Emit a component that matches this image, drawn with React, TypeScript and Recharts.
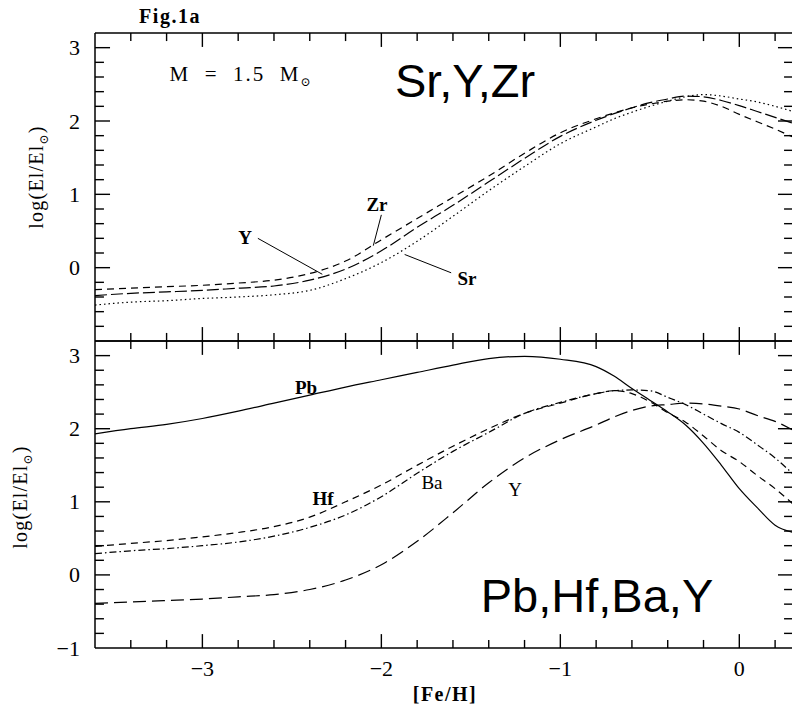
import React from 'react';
import { LineChart, Line, XAxis, YAxis, ReferenceLine } from 'recharts';

// [Fe/H] grid shared by both panels
const FE_H = [-3.6, -3.4, -3.2, -3.0, -2.8, -2.6, -2.4, -2.2, -2.0, -1.8, -1.6, -1.4, -1.2, -1.0, -0.8, -0.7, -0.6, -0.5, -0.4, -0.3, -0.2, -0.1, 0.0, 0.1, 0.2, 0.3];

// top panel: Sr, Y, Zr
const ZR = [-0.30, -0.28, -0.26, -0.24, -0.21, -0.17, -0.08, 0.09, 0.38, 0.67, 0.96, 1.25, 1.56, 1.84, 2.03, 2.11, 2.18, 2.23, 2.27, 2.29, 2.27, 2.20, 2.09, 1.99, 1.89, 1.78];
const Y_TOP = [-0.38, -0.35, -0.33, -0.31, -0.28, -0.25, -0.17, -0.02, 0.23, 0.55, 0.85, 1.17, 1.49, 1.79, 2.01, 2.10, 2.18, 2.25, 2.30, 2.34, 2.33, 2.28, 2.21, 2.13, 2.05, 1.97];
const SR = [-0.51, -0.47, -0.45, -0.42, -0.40, -0.37, -0.31, -0.15, 0.07, 0.36, 0.70, 1.05, 1.38, 1.69, 1.92, 2.03, 2.12, 2.20, 2.27, 2.33, 2.36, 2.34, 2.30, 2.26, 2.20, 2.13];

// bottom panel: Pb, Hf, Ba, Y
const PB = [1.93, 2.00, 2.06, 2.14, 2.24, 2.35, 2.46, 2.57, 2.67, 2.77, 2.87, 2.96, 2.99, 2.95, 2.85, 2.72, 2.55, 2.39, 2.23, 2.05, 1.80, 1.50, 1.18, 0.92, 0.68, 0.58];
const HF = [0.39, 0.43, 0.47, 0.52, 0.58, 0.66, 0.79, 1.00, 1.23, 1.50, 1.76, 2.00, 2.21, 2.35, 2.48, 2.52, 2.48, 2.37, 2.22, 2.09, 1.90, 1.70, 1.55, 1.36, 1.18, 0.97];
const BA = [0.29, 0.33, 0.36, 0.40, 0.45, 0.53, 0.65, 0.82, 1.07, 1.39, 1.69, 1.95, 2.21, 2.36, 2.48, 2.52, 2.53, 2.52, 2.43, 2.33, 2.20, 2.07, 1.95, 1.78, 1.60, 1.38];
const Y_BOT = [-0.39, -0.37, -0.35, -0.33, -0.30, -0.27, -0.20, -0.07, 0.14, 0.46, 0.85, 1.26, 1.60, 1.85, 2.05, 2.16, 2.25, 2.31, 2.33, 2.35, 2.34, 2.31, 2.27, 2.18, 2.10, 1.98];

const X_TICKS = [-3.4, -3.2, -3.0, -2.8, -2.6, -2.4, -2.2, -2.0, -1.8, -1.6, -1.4, -1.2, -1.0, -0.8, -0.6, -0.4, -0.2, 0.0, 0.2];
const X_LABELS = [-3, -2, -1, 0];
const Y_TICKS = [-0.8, -0.6, -0.4, -0.2, 0.0, 0.2, 0.4, 0.6, 0.8, 1.0, 1.2, 1.4, 1.6, 1.8, 2.0, 2.2, 2.4, 2.6, 2.8, 3.0];
const Y_LABELS_TOP = [0, 1, 2, 3];
const Y_LABELS_BOT = [-1, 0, 1, 2, 3];

const topRows = FE_H.map((x, i) => ({ x, zr: ZR[i], y: Y_TOP[i], sr: SR[i] }));
const botRows = FE_H.map((x, i) => ({ x, pb: PB[i], hf: HF[i], ba: BA[i], y: Y_BOT[i] }));

const SERIF = '"Liberation Serif", "DejaVu Serif", serif';
const SANS = '"Liberation Sans", Arial, sans-serif';

const X_DOMAIN: [number, number] = [-3.6, 0.3];
const Y_DOMAIN: [number, number] = [-1, 3.2];

// inward tick lengths, in axis units (about 14/8 px vertical, 15/9 px horizontal)
const XT_MAJOR = 0.19;
const XT_MINOR = 0.11;
const YT_MAJOR = 0.084;
const YT_MINOR = 0.05;

const has = (arr: number[], v: number) => arr.some((a) => Math.abs(a - v) < 1e-6);
const isInt = (v: number) => Math.abs(v - Math.round(v)) < 1e-6;
const fmt = (v: number) => (v < 0 ? '\u2212' + Math.abs(v) : String(v));

const xLabel = (labels: number[] | null) => (props: any) => {
  const v = Number(props.payload.value);
  if (!labels || !has(labels, v)) return <g />;
  return (
    <text x={Number(props.x)} y={Number(props.y) + 28} textAnchor="middle" fontSize={22} fontFamily={SERIF} fill="#000">
      {fmt(v)}
    </text>
  );
};

const yLabel = (labels: number[]) => (props: any) => {
  const v = Number(props.payload.value);
  if (!has(labels, v)) return <g />;
  return (
    <text x={Number(props.x) - 15} y={Number(props.y) + 7.5} textAnchor="end" fontSize={22} fontFamily={SERIF} fill="#000">
      {fmt(v)}
    </text>
  );
};

const lineProps = {
  xAxisId: 'b',
  yAxisId: 'l',
  type: 'monotone' as const,
  stroke: '#000',
  strokeWidth: 1.2,
  dot: false,
  activeDot: false,
  isAnimationActive: false,
};

const seg = (key: string, a: [number, number], b: [number, number], w = 1.4) => (
  <ReferenceLine key={key} xAxisId="b" yAxisId="l" segment={[{ x: a[0], y: a[1] }, { x: b[0], y: b[1] }]}
    stroke="#000" strokeWidth={w} ifOverflow="visible" />
);

const Axes = (bottomHeight: number, xLabels: number[] | null, yLabels: number[]) => [
  <XAxis key="b" xAxisId="b" dataKey="x" type="number" domain={X_DOMAIN} ticks={X_TICKS} interval={0}
    height={bottomHeight} tickSize={0} tickMargin={0} axisLine={false} tickLine={false}
    tick={xLabel(xLabels)} allowDataOverflow />,
  <YAxis key="l" yAxisId="l" type="number" domain={Y_DOMAIN} ticks={[-1, ...Y_TICKS]} interval={0} width={95}
    tickSize={0} tickMargin={0} axisLine={false} tickLine={false} tick={yLabel(yLabels)} allowDataOverflow />,
];

// box plus inward ticks on all four sides
const Frame = () => {
  const [x0, x1] = X_DOMAIN;
  const [y0, y1] = Y_DOMAIN;
  const out = [
    seg('fl', [x0, y0], [x0, y1], 1.5),
    seg('fb', [x0, y0], [x1, y0], 1.5),
    seg('ft', [x0, y1], [x1, y1], 1.5),
  ];
  X_TICKS.forEach((t, i) => {
    const len = has(X_LABELS, t) ? XT_MAJOR : XT_MINOR;
    out.push(seg('xb' + i, [t, y0], [t, y0 + len]));
    out.push(seg('xt' + i, [t, y1], [t, y1 - len]));
  });
  Y_TICKS.forEach((t, i) => {
    const len = isInt(t) ? YT_MAJOR : YT_MINOR;
    out.push(seg('yl' + i, [x0, t], [x0 + len, t]));
    out.push(seg('yr' + i, [x1 - len, t], [x1, t]));
  });
  return out;
};

const txt = (left: number, top: number, s: React.ReactNode, extra: React.CSSProperties = {}) => (
  <div style={{ position: 'absolute', left, top, transform: 'translate(-50%, -50%)', whiteSpace: 'pre',
    fontFamily: SERIF, fontSize: 19, color: '#000', lineHeight: 1, ...extra }}>{s}</div>
);

const yTitle = (left: number, top: number) =>
  txt(left, top, <span>log(El/El<sub style={{ fontSize: 12 }}>⊙</sub>)</span>,
    { transform: 'translate(-50%, -50%) rotate(-90deg)', fontSize: 20, letterSpacing: 1.2 });

export default function App() {
  return (
    <div style={{ position: 'absolute', left: 0, top: 0, width: 792, height: 709, overflow: 'hidden', background: '#fff' }}>
      <div style={{ position: 'absolute', left: 0, top: 0 }}>
        <LineChart width={800} height={345} data={topRows} margin={{ top: 33, right: 7, bottom: 4, left: 0 }}>
          {Axes(0, null, Y_LABELS_TOP)}
          {Frame()}
          <Line {...lineProps} dataKey="zr" strokeDasharray="7 5" />
          <Line {...lineProps} dataKey="y" strokeDasharray="12 4" />
          <Line {...lineProps} dataKey="sr" strokeDasharray="1.5 3" />
          {seg('pY', [-2.69, 0.40], [-2.33, -0.09], 1)}
          {seg('pZr', [-2.0, 0.72], [-2.045, 0.30], 1)}
          {seg('pSr', [-1.87, 0.18], [-1.61, -0.07], 1)}
        </LineChart>
      </div>
      <div style={{ position: 'absolute', left: 0, top: 331 }}>
        <LineChart width={800} height={378} data={botRows} margin={{ top: 10, right: 7, bottom: 0, left: 0 }}>
          {Axes(61, X_LABELS, Y_LABELS_BOT)}
          {Frame()}
          <Line {...lineProps} dataKey="pb" />
          <Line {...lineProps} dataKey="hf" strokeDasharray="7 5" />
          <Line {...lineProps} dataKey="ba" strokeDasharray="7 3 1.5 3" />
          <Line {...lineProps} dataKey="y" strokeDasharray="13 6" />
        </LineChart>
      </div>

      {txt(170, 16, 'Fig.1a', { fontWeight: 'bold', fontSize: 20, letterSpacing: 1.5 })}
      {txt(241, 76, <span>M  =  1.5  M<sub style={{ fontSize: 12 }}>⊙</sub></span>, { fontSize: 21, letterSpacing: 2 })}
      {txt(465, 80, 'Sr,Y,Zr', { fontFamily: SANS, fontSize: 47 })}
      {txt(597, 595, 'Pb,Hf,Ba,Y', { fontFamily: SANS, fontSize: 47 })}

      {yTitle(38, 177)}
      {yTitle(22, 497)}
      {txt(445, 694, '[Fe/H]', { fontWeight: 'bold', fontSize: 20, letterSpacing: 1.5 })}

      {txt(377, 204, 'Zr', { fontWeight: 'bold' })}
      {txt(245, 237, 'Y', { fontWeight: 'bold' })}
      {txt(467, 278, 'Sr', { fontWeight: 'bold' })}
      {txt(306, 387, 'Pb', { fontWeight: 'bold' })}
      {txt(323, 498, 'Hf', { fontWeight: 'bold' })}
      {txt(432, 482, 'Ba')}
      {txt(515, 489, 'Y')}
    </div>
  );
}
